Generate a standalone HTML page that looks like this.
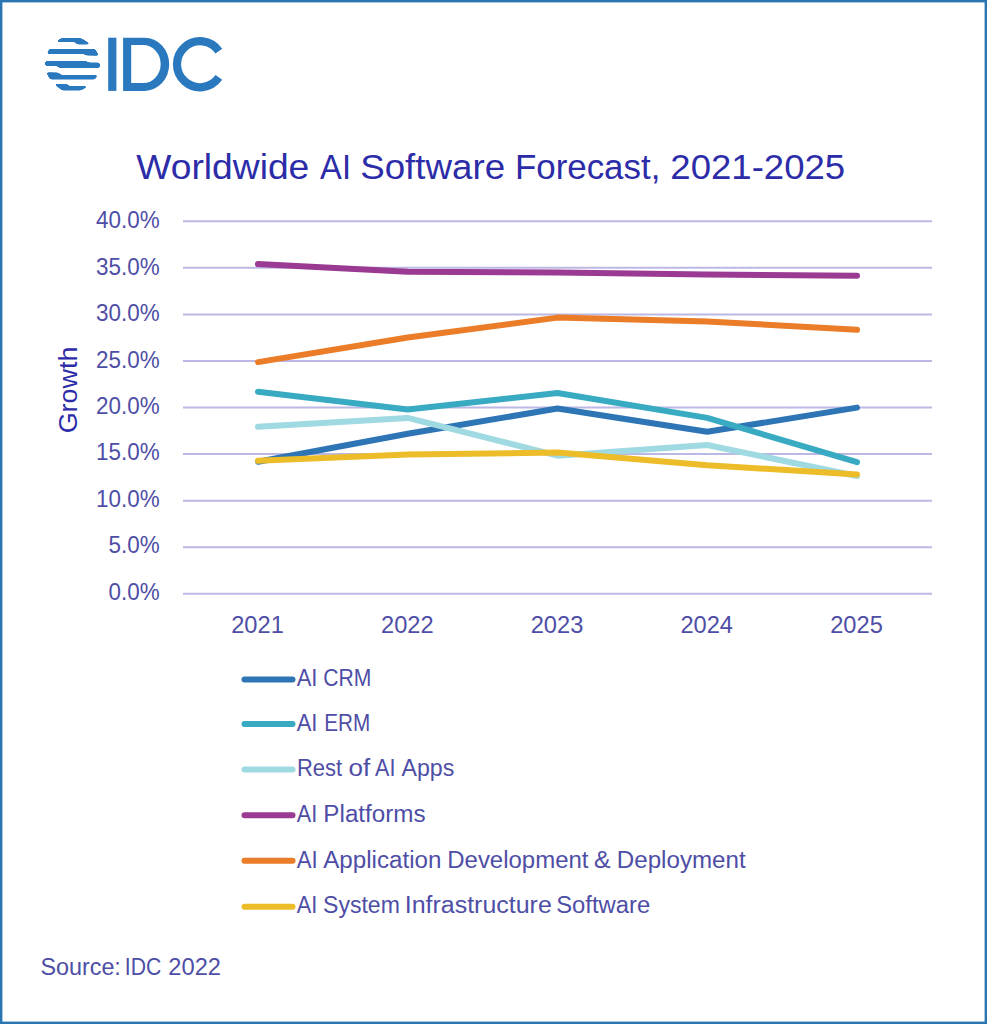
<!DOCTYPE html>
<html><head><meta charset="utf-8"><style>
html,body{margin:0;padding:0;background:#fff;overflow:hidden;}
svg{display:block;}
text{font-family:"Liberation Sans",sans-serif;}
</style></head><body>
<svg width="987" height="1024" viewBox="0 0 987 1024">
<rect x="0" y="0" width="987" height="1024" fill="#fff"/>
<rect x="1.2" y="1.2" width="984.6" height="1021.6" fill="none" stroke="#2a75b0" stroke-width="2.4"/>
<defs><filter id="goo" x="30" y="25" width="80" height="80" filterUnits="userSpaceOnUse" color-interpolation-filters="sRGB"><feGaussianBlur stdDeviation="1.1"/><feComponentTransfer><feFuncA type="linear" slope="6" intercept="-2.5"/></feComponentTransfer></filter></defs>
<g fill="#2a79bf" filter="url(#goo)">
<polygon points="55.6,42.2 60.5,38.3 81.5,38.3 91.2,44.6 77.5,44.4 74.3,42.0"/>
<polygon points="46.6,54.0 49.4,48.8 94.9,48.8 99.3,55.8 86.1,55.6 82.8,53.8"/>
<polygon points="45.6,61 86.1,61 89,62.6 99.4,62.6 100.3,65.2 99.4,67.9 59.5,67.9 56.5,65.9 45.6,65.9 44.7,63.5"/>
<polygon points="46.0,72.3 58.4,72.4 61.5,75.1 98.0,75.0 95.0,79.5 50,79.5"/>
<polygon points="53.6,83.7 67,83.9 70,86.2 89.2,86.0 80.8,90.4 62,90.4"/>
</g>
<g fill="#2a79bf">
<rect x="108.2" y="37.7" width="8.2" height="53.2"/>
<path fill-rule="evenodd" d="M123.1,37.7 H144.7 A24.5,26.6 0 0 1 144.7,90.9 H123.1 Z M131.2,45.1 H143.3 A17.4,19 0 0 1 143.3,83.1 H131.2 Z"/>
</g>
<path d="M218.84,51.06 A23.0,23.0 0 1 0 218.84,77.44" fill="none" stroke="#2a79bf" stroke-width="8.2"/>
<text x="136.33" y="178.64" font-size="35.54" fill="#2c2ca8" textLength="172.96" lengthAdjust="spacingAndGlyphs">Worldwide</text>
<text x="320.10" y="178.64" font-size="35.54" fill="#2c2ca8" textLength="30.90" lengthAdjust="spacingAndGlyphs">AI</text>
<text x="360.16" y="178.64" font-size="35.54" fill="#2c2ca8" textLength="144.94" lengthAdjust="spacingAndGlyphs">Software</text>
<text x="514.91" y="178.64" font-size="35.54" fill="#2c2ca8" textLength="145.44" lengthAdjust="spacingAndGlyphs">Forecast,</text>
<text x="670.37" y="178.64" font-size="35.54" fill="#2c2ca8" textLength="174.77" lengthAdjust="spacingAndGlyphs">2021-2025</text>
<line x1="183" y1="221.25" x2="932" y2="221.25" stroke="#bcb8e4" stroke-width="2"/>
<line x1="183" y1="267.82" x2="932" y2="267.82" stroke="#bcb8e4" stroke-width="2"/>
<line x1="183" y1="314.39" x2="932" y2="314.39" stroke="#bcb8e4" stroke-width="2"/>
<line x1="183" y1="360.96" x2="932" y2="360.96" stroke="#bcb8e4" stroke-width="2"/>
<line x1="183" y1="407.53" x2="932" y2="407.53" stroke="#bcb8e4" stroke-width="2"/>
<line x1="183" y1="454.10" x2="932" y2="454.10" stroke="#bcb8e4" stroke-width="2"/>
<line x1="183" y1="500.67" x2="932" y2="500.67" stroke="#bcb8e4" stroke-width="2"/>
<line x1="183" y1="547.24" x2="932" y2="547.24" stroke="#bcb8e4" stroke-width="2"/>
<line x1="183" y1="593.81" x2="932" y2="593.81" stroke="#bcb8e4" stroke-width="2"/>
<text x="96.05" y="228.14" font-size="23.94" fill="#4e4ea6" textLength="63.65" lengthAdjust="spacingAndGlyphs">40.0%</text>
<text x="96.05" y="274.60" font-size="23.94" fill="#4e4ea6" textLength="63.65" lengthAdjust="spacingAndGlyphs">35.0%</text>
<text x="96.05" y="321.07" font-size="23.94" fill="#4e4ea6" textLength="63.65" lengthAdjust="spacingAndGlyphs">30.0%</text>
<text x="96.05" y="367.53" font-size="23.94" fill="#4e4ea6" textLength="63.65" lengthAdjust="spacingAndGlyphs">25.0%</text>
<text x="96.05" y="413.99" font-size="23.94" fill="#4e4ea6" textLength="63.65" lengthAdjust="spacingAndGlyphs">20.0%</text>
<text x="96.05" y="460.46" font-size="23.94" fill="#4e4ea6" textLength="63.65" lengthAdjust="spacingAndGlyphs">15.0%</text>
<text x="96.05" y="506.92" font-size="23.94" fill="#4e4ea6" textLength="63.65" lengthAdjust="spacingAndGlyphs">10.0%</text>
<text x="108.62" y="553.38" font-size="23.94" fill="#4e4ea6" textLength="51.16" lengthAdjust="spacingAndGlyphs">5.0%</text>
<text x="108.62" y="599.84" font-size="23.94" fill="#4e4ea6" textLength="51.16" lengthAdjust="spacingAndGlyphs">0.0%</text>
<text transform="translate(76.94,433.35) rotate(-90)" x="0" y="0" font-size="26.49" fill="#2c2ca8" textLength="86.85" lengthAdjust="spacingAndGlyphs">Growth</text>
<text x="231.22" y="633.16" font-size="24.23" fill="#4e4ea6" textLength="52.63" lengthAdjust="spacingAndGlyphs">2021</text>
<text x="381.02" y="633.16" font-size="24.23" fill="#4e4ea6" textLength="52.63" lengthAdjust="spacingAndGlyphs">2022</text>
<text x="530.72" y="633.16" font-size="24.23" fill="#4e4ea6" textLength="52.63" lengthAdjust="spacingAndGlyphs">2023</text>
<text x="680.42" y="633.16" font-size="24.23" fill="#4e4ea6" textLength="52.63" lengthAdjust="spacingAndGlyphs">2024</text>
<text x="830.22" y="633.16" font-size="24.23" fill="#4e4ea6" textLength="52.63" lengthAdjust="spacingAndGlyphs">2025</text>
<g fill="none" stroke-width="6" stroke-linecap="round" stroke-linejoin="round">
<polyline stroke="#2e75b6" points="258.0,461.79 407.8,433.68 557.5,408.55 707.2,431.81 857.0,407.62"/>
<polyline stroke="#38aac2" points="258.0,391.70 407.8,409.48 557.5,393.00 707.2,417.85 857.0,462.06"/>
<polyline stroke="#9fd9e2" points="258.0,426.79 407.8,417.95 557.5,455.64 707.2,445.03 857.0,476.03"/>
<polyline stroke="#9a3a92" points="258.0,264.09 407.8,271.63 557.5,272.38 707.2,274.43 857.0,275.82"/>
<polyline stroke="#eb7c28" points="258.0,362.10 407.8,337.44 557.5,317.61 707.2,321.43 857.0,329.71"/>
<polyline stroke="#ecbd28" points="258.0,460.85 407.8,454.43 557.5,452.57 707.2,465.23 857.0,474.44"/>
</g>
<line x1="244.5" y1="679.5" x2="292.5" y2="679.5" stroke="#2e75b6" stroke-width="6" stroke-linecap="round"/>
<text x="296.70" y="686.20" font-size="24.06" fill="#4e4ea6" textLength="20.79" lengthAdjust="spacingAndGlyphs">AI</text>
<text x="323.24" y="686.20" font-size="24.06" fill="#4e4ea6" textLength="48.09" lengthAdjust="spacingAndGlyphs">CRM</text>
<line x1="244.5" y1="724.1" x2="292.5" y2="724.1" stroke="#38aac2" stroke-width="6" stroke-linecap="round"/>
<text x="296.70" y="730.70" font-size="24.06" fill="#4e4ea6" textLength="20.79" lengthAdjust="spacingAndGlyphs">AI</text>
<text x="324.25" y="730.70" font-size="24.06" fill="#4e4ea6" textLength="45.95" lengthAdjust="spacingAndGlyphs">ERM</text>
<line x1="244.5" y1="769.5" x2="292.5" y2="769.5" stroke="#9fd9e2" stroke-width="6" stroke-linecap="round"/>
<text x="296.95" y="776.20" font-size="24.06" fill="#4e4ea6" textLength="45.09" lengthAdjust="spacingAndGlyphs">Rest</text>
<text x="348.46" y="776.20" font-size="24.06" fill="#4e4ea6" textLength="21.75" lengthAdjust="spacingAndGlyphs">of</text>
<text x="375.10" y="776.20" font-size="24.06" fill="#4e4ea6" textLength="20.34" lengthAdjust="spacingAndGlyphs">AI</text>
<text x="401.50" y="776.20" font-size="24.06" fill="#4e4ea6" textLength="52.81" lengthAdjust="spacingAndGlyphs">Apps</text>
<line x1="244.5" y1="815.2" x2="292.5" y2="815.2" stroke="#9a3a92" stroke-width="6" stroke-linecap="round"/>
<text x="296.80" y="821.50" font-size="24.06" fill="#4e4ea6" textLength="20.45" lengthAdjust="spacingAndGlyphs">AI</text>
<text x="323.36" y="821.50" font-size="24.06" fill="#4e4ea6" textLength="102.24" lengthAdjust="spacingAndGlyphs">Platforms</text>
<line x1="244.5" y1="860.7" x2="292.5" y2="860.7" stroke="#eb7c28" stroke-width="6" stroke-linecap="round"/>
<text x="296.80" y="867.50" font-size="24.06" fill="#4e4ea6" textLength="20.90" lengthAdjust="spacingAndGlyphs">AI</text>
<text x="323.20" y="867.50" font-size="24.06" fill="#4e4ea6" textLength="118.20" lengthAdjust="spacingAndGlyphs">Application</text>
<text x="447.28" y="867.50" font-size="24.06" fill="#4e4ea6" textLength="141.17" lengthAdjust="spacingAndGlyphs">Development</text>
<text x="594.00" y="867.50" font-size="24.06" fill="#4e4ea6" textLength="16.62" lengthAdjust="spacingAndGlyphs">&amp;</text>
<text x="616.87" y="867.50" font-size="24.06" fill="#4e4ea6" textLength="128.77" lengthAdjust="spacingAndGlyphs">Deployment</text>
<line x1="244.5" y1="906.8" x2="292.5" y2="906.8" stroke="#ecbd28" stroke-width="6" stroke-linecap="round"/>
<text x="296.80" y="913.00" font-size="24.06" fill="#4e4ea6" textLength="20.56" lengthAdjust="spacingAndGlyphs">AI</text>
<text x="323.05" y="913.00" font-size="24.06" fill="#4e4ea6" textLength="76.83" lengthAdjust="spacingAndGlyphs">System</text>
<text x="404.75" y="913.00" font-size="24.06" fill="#4e4ea6" textLength="147.08" lengthAdjust="spacingAndGlyphs">Infrastructure</text>
<text x="556.21" y="913.00" font-size="24.06" fill="#4e4ea6" textLength="94.00" lengthAdjust="spacingAndGlyphs">Software</text>
<text x="40.43" y="974.56" font-size="24.23" fill="#4e4ea6" textLength="80.42" lengthAdjust="spacingAndGlyphs">Source:</text>
<text x="124.79" y="974.56" font-size="24.23" fill="#4e4ea6" textLength="36.50" lengthAdjust="spacingAndGlyphs">IDC</text>
<text x="168.32" y="974.56" font-size="24.23" fill="#4e4ea6" textLength="52.68" lengthAdjust="spacingAndGlyphs">2022</text>
</svg>
</body></html>
